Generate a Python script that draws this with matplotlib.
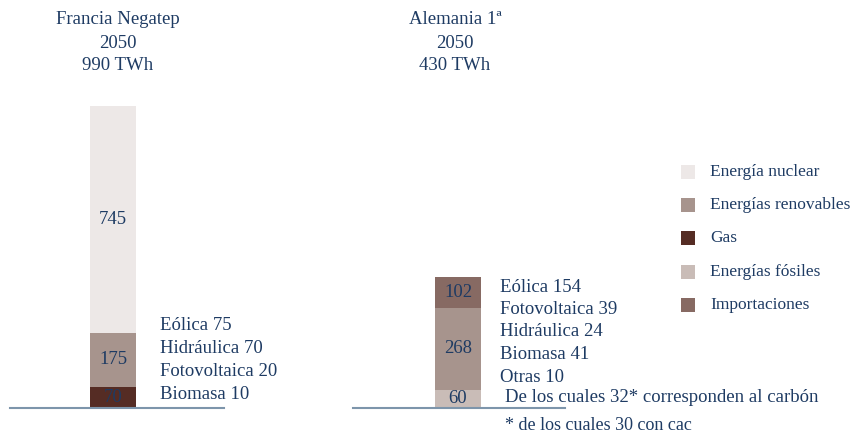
import matplotlib
matplotlib.use("Agg")
from matplotlib import pyplot as plt
from matplotlib.patches import Rectangle

# data (TWh)
scenarios = ["Francia Negatep\n2050\n990 TWh", "Alemania 1ª\n2050\n430 TWh"]
categories = ["Energía nuclear", "Energías renovables", "Gas", "Energías fósiles", "Importaciones"]
colors = ["#ede8e7", "#a7948d", "#552c24", "#c9bcb7", "#876a63"]
francia = {"Gas": 70, "Energías renovables": 175, "Energía nuclear": 745}
alemania = {"Energías fósiles": 60, "Energías renovables": 268, "Importaciones": 102}
francia_detail = ["Eólica 75", "Hidráulica 70", "Fotovoltaica 20", "Biomasa 10"]
alemania_detail = ["Eólica 154", "Fotovoltaica 39", "Hidráulica 24", "Biomasa 41", "Otras 10"]
alemania_note = "De los cuales 32* corresponden al carbón"
footnote = "* de los cuales 30 con cac"

W, H = 850, 433
BASE = 408          # baseline pixel (from top)
PX_PER_TWH = 0.305
TXT = "#1e3b63"
plt.rcParams['font.family'] = ["Liberation Serif", 'DejaVu Serif']

fig = plt.figure(figsize=(W / 100, H / 100), dpi=100)

# bar axes: x in pixels, y in TWh
ax = fig.add_axes([0, 0, 1, 1])
ax.set_xlim(0, W)
ax.set_ylim(-(H - BASE) / PX_PER_TWH, BASE / PX_PER_TWH)
ax.axis("off")

# text axes: plain pixel coordinates
tx = fig.add_axes([0, 0, 1, 1])
tx.set_xlim(0, W)
tx.set_ylim(H, 0)
tx.axis("off")
tx.patch.set_alpha(0)

color_of = dict(zip(categories, colors))
bar_x = [113, 458]
bar_w = 46
for cx, stack in zip(bar_x, [francia, alemania]):
    bottom = 0
    for cat, val in stack.items():
        ax.bar(cx, val, bottom=bottom, width=bar_w, color=color_of[cat], linewidth=0)
        ax.text(cx, bottom + val / 2, str(val), ha="center", va="center",
                fontsize=13.5, color=TXT)
        bottom += val

# baselines
tx.plot([10, 224], [BASE, BASE], color="#7d95ab", lw=1.5)
tx.plot([353, 565], [BASE, BASE], color="#7d95ab", lw=1.5)

# titles
for cx, title in zip([118, 455], scenarios):
    for i, line in enumerate(title.split("\n")):
        tx.text(cx, 20 + i * 23, line, ha="center", va="center", fontsize=13.5, color=TXT)

# detail labels
for i, s in enumerate(francia_detail):
    tx.text(160, 326 + i * 22.7, s, ha="left", va="center", fontsize=13.5, color=TXT)
for i, s in enumerate(alemania_detail):
    tx.text(500, 287 + i * 22.5, s, ha="left", va="center", fontsize=13.5, color=TXT)
tx.text(505, 398, alemania_note, ha="left", va="center", fontsize=13.5, color=TXT)
tx.text(505, 426, footnote, ha="left", va="center", fontsize=13, color=TXT)

# legend
for i, (cat, col) in enumerate(zip(categories, colors)):
    y = 172 + i * 33.2
    tx.add_patch(Rectangle((681, y - 7), 14, 14, color=col, lw=0))
    tx.text(710, y, cat, ha="left", va="center", fontsize=12.5, color=TXT)

plt.savefig("out.png", dpi=100)
